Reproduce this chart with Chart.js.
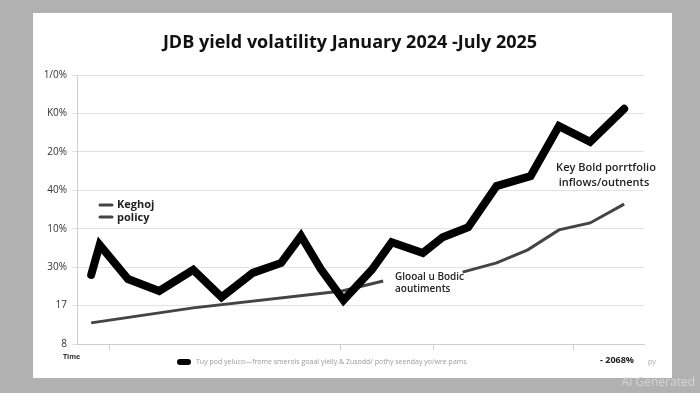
<!DOCTYPE html>
<html>
<head>
<meta charset="utf-8">
<script src="https://cdn.jsdelivr.net/npm/chart.js"></script>
<style>
  html, body { margin: 0; padding: 0; background: #b1b1b1; }
  #wrap { width: 700px; height: 393px; }
</style>
</head>
<body>
<div id="wrap"><canvas id="yieldChart" width="700" height="393"></canvas></div>
<script>
// y axis tick labels, bottom to top (as printed on the picture)
const yTickLabels = ['8', '17', '30%', '10%', '40%', '20%', 'K0%', '1/0%'];

// time position of each reading (0 = left edge of axis, 20 = right edge)
const yieldTimes = [0.5, 0.8, 1.8, 2.9, 4.1, 5.1, 6.2, 7.2, 7.9, 8.6, 9.4, 10.4, 11.1, 12.2, 12.9, 13.8, 14.8, 16.0, 17.0, 18.1, 19.3];
const yieldValues = [1.80, 2.58, 1.69, 1.38, 1.93, 1.22, 1.85, 2.11, 2.81, 1.95, 1.14, 1.93, 2.65, 2.37, 2.78, 3.04, 4.11, 4.37, 5.67, 5.26, 6.12];

const policyTimes = [0.5, 4.1, 9.35, 10.8, 12.2, 13.6, 14.8, 15.9, 17.0, 18.1, 19.3];
const policyValues = [0.55, 0.94, 1.38, 1.64, null, 1.87, 2.11, 2.45, 2.97, 3.15, 3.64];

// where the small tick marks sit under the x axis
const xTickMarks = [1.13, 9.31, 12.56, 17.53];

const toPoints = (xs, ys) => xs.map((x, i) => ({ x: x, y: ys[i] }));

const textPlugin = {
    id: 'texts',
    beforeDraw(chart) {
        const c = chart.ctx;
        c.save();
        c.fillStyle = '#b1b1b1';
        c.fillRect(0, 0, chart.width, chart.height);
        c.fillStyle = '#ffffff';
        c.fillRect(33, 13, 639, 365);
        c.restore();
    },
    afterDraw(chart) {
        const c = chart.ctx;
        c.save();
        c.textBaseline = 'middle';

        // title
        c.fillStyle = '#111';
        c.textAlign = 'center';
        c.font = 'bold 18px "Open Sans"';
        c.fillText('JDB yield volatility January 2024 -July 2025', 350, 43);

        // inner legend
        c.strokeStyle = '#444';
        c.lineWidth = 3;
        c.lineCap = 'round';
        [205, 217].forEach(y => {
            c.beginPath();
            c.moveTo(100, y);
            c.lineTo(112, y);
            c.stroke();
        });
        c.textAlign = 'left';
        c.font = 'bold 11px "Open Sans"';
        c.fillStyle = '#222';
        c.fillText('Keghoj', 117, 205);
        c.fillText('policy', 117, 218);

        // annotations
        c.font = '600 11px "Open Sans"';
        c.textAlign = 'center';
        c.fillText('Key Bold porrtfolio', 606, 168);
        c.fillText('inflows/outnents', 604, 183);

        c.textAlign = 'left';
        c.font = '600 10px "Open Sans"';
        c.fillText('Glooal u Bodic', 395, 277);
        c.fillText('aoutiments', 395, 289);

        // footer
        c.font = 'bold 7px "Open Sans"';
        c.fillStyle = '#333';
        c.fillText('Time', 63, 357);

        c.fillStyle = '#000';
        c.beginPath();
        c.roundRect(177, 359, 14, 6, 3);
        c.fill();
        c.font = '7px "Open Sans"';
        c.fillStyle = '#9a9a9a';
        c.fillText('Tuy pod yeluco\u2014frome smerois goaal yielly & Zusodd/ pothy seenday yo/wre pams', 196, 362);

        c.font = 'bold 9px "Open Sans"';
        c.fillStyle = '#222';
        c.fillText('- 2068%', 600, 360);
        c.font = '7px "Open Sans"';
        c.fillStyle = '#aaa';
        c.fillText('py', 648, 362);

        // watermark
        c.textAlign = 'right';
        c.font = '12px "Open Sans"';
        c.fillStyle = '#d6d6d6';
        c.fillText('AI Generated', 695, 383);
        c.restore();
    }
};

new Chart(document.getElementById('yieldChart'), {
    type: 'line',
    data: {
        datasets: [
            {
                label: 'Keghoj',
                data: toPoints(yieldTimes, yieldValues),
                borderColor: '#000',
                borderWidth: 8,
                borderJoinStyle: 'miter',
                borderCapStyle: 'round',
                pointRadius: 0,
                tension: 0,
                fill: false
            },
            {
                label: 'policy',
                data: toPoints(policyTimes, policyValues),
                borderColor: '#444',
                borderWidth: 3,
                pointRadius: 0,
                tension: 0,
                spanGaps: false,
                fill: false
            }
        ]
    },
    options: {
        responsive: false,
        animation: false,
        layout: { padding: { top: 75, right: 56, left: 0, bottom: 0 } },
        plugins: {
            legend: { display: false },
            tooltip: { enabled: false },
            title: { display: false }
        },
        scales: {
            x: {
                type: 'linear',
                min: 0,
                max: 20,
                afterBuildTicks: s => { s.ticks = xTickMarks.map(v => ({ value: v })); },
                afterFit: s => { s.height = 49; },
                ticks: { callback: () => '', font: { size: 1 } },
                grid: { drawOnChartArea: false, drawTicks: true, tickLength: 6, color: '#cfcfcf' },
                border: { color: '#cfcfcf' }
            },
            y: {
                min: 0,
                max: 7,
                afterFit: s => { s.width = 77; },
                ticks: {
                    stepSize: 1,
                    padding: 5,
                    color: '#333',
                    font: { family: 'Open Sans', size: 10 },
                    callback: v => yTickLabels[v]
                },
                grid: { color: '#e2e2e2', tickLength: 5 },
                border: { color: '#cfcfcf' }
            }
        }
    },
    plugins: [textPlugin]
});
</script>
</body>
</html>
